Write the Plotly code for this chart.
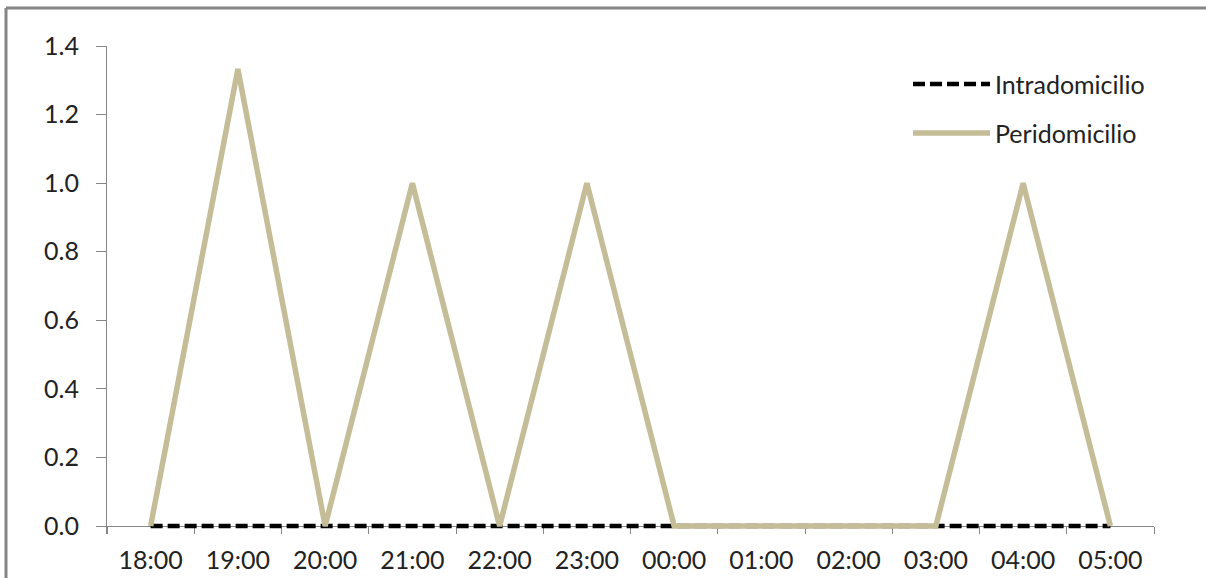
import plotly.graph_objects as go

hours = ["18:00", "19:00", "20:00", "21:00", "22:00", "23:00",
         "00:00", "01:00", "02:00", "03:00", "04:00", "05:00"]
intradomicilio = [0, 0, 0, 0, 0, 0, 0, 0, 0, 0, 0, 0]
peridomicilio = [0, 1.333, 0, 1, 0, 1, 0, 0, 0, 0, 1, 0]
series_names = ["Intradomicilio", "Peridomicilio"]

axis_grey = "#868686"
tan = "#C4BD97"
W, H = 1206, 578
# plot area: y=1.4 at 46px, y=0 at 526px, a few px extra below so the
# lines lying on zero are not clipped in half
L, R, T, B = 107, 52, 46, 44
pw, ph = W - L - R, H - T - B
pad = (H - B) - 526
ymax = 1.4
ymin = -pad * ymax / (526 - T)


def px(x):
    return (x - L) / pw


def py(y):
    return (H - B - y) / ph


line_styles = [dict(color="black", width=4.5, dash="12px,5px"),
               dict(color=tan, width=5.5)]

fig = go.Figure(
    data=[go.Scatter(x=hours, y=intradomicilio, name=series_names[0], mode="lines",
                     line=line_styles[0]),
          go.Scatter(x=hours, y=peridomicilio, name=series_names[1], mode="lines",
                     line=line_styles[1])],
    layout=go.Layout(
        width=W, height=H,
        margin=dict(l=L, r=R, t=T, b=B),
        paper_bgcolor="white", plot_bgcolor="white",
        font=dict(family="Lato, Open Sans, sans-serif", size=25, color="#222222"),
        showlegend=False,
        xaxis=dict(type="category", range=[-0.5, 11.5], showgrid=False,
                   anchor="free", position=pad / ph, automargin=False,
                   layer="below traces",
                   showline=True, linecolor=axis_grey, linewidth=1,
                   ticks="outside", tickson="boundaries", ticklen=7,
                   tickcolor=axis_grey, ticklabelstandoff=12),
        yaxis=dict(range=[ymin, ymax], tick0=0, dtick=0.2, tickformat=".1f",
                   showgrid=False, zeroline=False, automargin=False,
                   layer="below traces",
                   showline=True, linecolor=axis_grey, linewidth=1,
                   ticks="outside", ticklen=10, tickcolor=axis_grey,
                   ticklabelstandoff=12),
    )
)

# chart frame (top and left edges visible in the reference)
fig.add_shape(type="line", xref="paper", yref="paper",
              x0=px(6), x1=px(W), y0=py(8), y1=py(8),
              line=dict(color=axis_grey, width=3))
fig.add_shape(type="line", xref="paper", yref="paper",
              x0=px(6), x1=px(6), y0=py(H), y1=py(8),
              line=dict(color=axis_grey, width=3))

# legend drawn by hand so the sample lines are as long as in the reference
for i, (name, style) in enumerate(zip(series_names, line_styles)):
    ly = 84 + 49 * i
    fig.add_shape(type="line", xref="paper", yref="paper",
                  x0=px(913), x1=px(990), y0=py(ly), y1=py(ly), line=style)
    fig.add_annotation(xref="paper", yref="paper", x=px(993), y=py(ly),
                       xanchor="left", yanchor="middle", showarrow=False,
                       text=name, font=dict(size=25))

fig.write_html("out.html", config={"displayModeBar": False},
               post_script="document.body.style.margin='0';"
                           "document.body.style.overflow='hidden';")
